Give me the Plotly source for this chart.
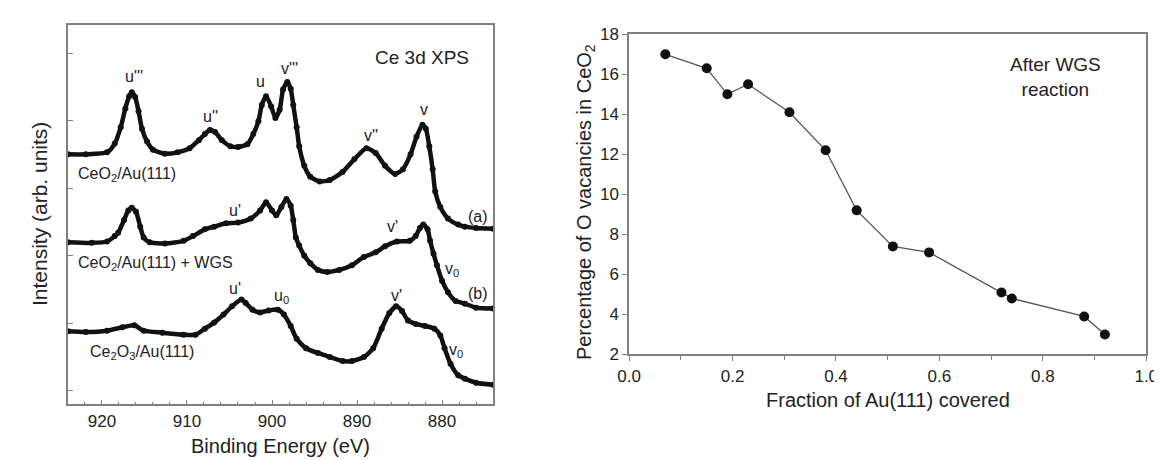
import plotly.graph_objects as go

# ---------------- data: Ce 3d XPS spectra (left panel) ----------------
energy_a = [924.0, 921.9, 919.4, 918.5, 917.8, 917.25, 916.8, 916.5, 916.1, 915.7, 915.3, 914.7,
            914.0, 912.6, 911.1, 909.7, 908.6, 907.9, 907.3, 906.7, 905.9, 904.9, 904.0, 902.9,
            902.2, 901.6, 901.2, 900.7, 900.1, 899.6, 899.1, 898.7, 898.2, 897.8, 897.5, 897.1,
            896.8, 896.2, 895.5, 894.4, 893.2, 891.7, 890.3, 888.9, 887.8, 886.7, 885.5, 884.6,
            883.7, 883.0, 882.3, 881.9, 881.5, 881.1, 880.8, 880.2, 879.3, 878.1, 877.3, 876.0, 874.0]
intens_a = [4.50, 4.50, 4.53, 4.66, 4.90, 5.18, 5.36, 5.42, 5.35, 5.14, 4.88, 4.69,
            4.57, 4.51, 4.53, 4.59, 4.71, 4.80, 4.86, 4.83, 4.71, 4.62, 4.61, 4.65,
            4.80, 4.99, 5.23, 5.36, 5.21, 5.04, 5.16, 5.46, 5.57, 5.47, 5.23, 4.90,
            4.62, 4.33, 4.17, 4.10, 4.12, 4.24, 4.43, 4.59, 4.52, 4.33, 4.21, 4.28,
            4.50, 4.76, 4.94, 4.88, 4.62, 4.28, 3.95, 3.72, 3.55, 3.46, 3.43, 3.41, 3.40]

energy_b = [924.0, 921.2, 919.4, 918.5, 918.1, 917.4, 916.9, 916.5, 916.0, 915.5, 915.1, 914.4,
            912.6, 910.4, 909.3, 907.9, 906.8, 905.4, 904.0, 902.5, 901.4, 900.7, 900.0, 899.5,
            898.9, 898.3, 897.8, 897.5, 897.2, 896.8, 896.2, 895.5, 894.6, 893.5, 892.1, 890.6,
            889.2, 887.8, 886.7, 885.3, 883.8, 883.1, 882.6, 882.2, 881.7, 881.4, 881.0, 880.6,
            880.0, 879.3, 878.4, 877.3, 876.0, 874.0]
intens_b = [3.20, 3.19, 3.21, 3.29, 3.34, 3.53, 3.67, 3.71, 3.65, 3.43, 3.27, 3.20,
            3.18, 3.22, 3.29, 3.39, 3.43, 3.48, 3.49, 3.55, 3.67, 3.79, 3.67, 3.60,
            3.72, 3.84, 3.74, 3.53, 3.27, 3.15, 3.00, 2.89, 2.79, 2.76, 2.79, 2.86,
            2.98, 3.05, 3.14, 3.21, 3.22, 3.29, 3.41, 3.46, 3.39, 3.22, 3.03, 2.86,
            2.63, 2.46, 2.33, 2.29, 2.23, 2.22]

energy_c = [924.0, 921.9, 919.4, 917.6, 916.2, 915.1, 912.9, 910.4, 909.0, 907.9, 906.8, 905.7,
            904.7, 903.6, 903.1, 902.3, 901.4, 900.4, 899.3, 898.6, 897.8, 897.1, 896.0, 894.6,
            893.2, 891.7, 890.6, 889.2, 888.1, 887.1, 886.2, 885.4, 884.7, 884.0, 883.1, 882.0,
            880.9, 880.2, 879.7, 879.0, 878.1, 877.3, 876.0, 874.0]
intens_c = [1.88, 1.87, 1.89, 1.94, 1.97, 1.89, 1.86, 1.83, 1.83, 1.92, 2.01, 2.13,
            2.25, 2.35, 2.30, 2.20, 2.16, 2.19, 2.20, 2.13, 1.96, 1.77, 1.63, 1.56,
            1.50, 1.44, 1.44, 1.50, 1.63, 1.92, 2.15, 2.25, 2.18, 2.04, 1.99, 1.96,
            1.92, 1.82, 1.63, 1.40, 1.23, 1.18, 1.12, 1.09]

# ---------------- data: O vacancies vs Au coverage (right panel) ----------------
coverage = [0.07, 0.15, 0.19, 0.23, 0.31, 0.38, 0.44, 0.51, 0.58, 0.72, 0.74, 0.88, 0.92]
vacancies = [17.0, 16.3, 15.0, 15.5, 14.1, 12.2, 9.2, 7.4, 7.1, 5.1, 4.8, 3.9, 3.0]

x_ticks_left = [920, 910, 900, 890, 880]
x_ticks_right = [0.0, 0.2, 0.4, 0.6, 0.8, 1.0]
x_ticklabels_right = ["0.0", "0.2", "0.4", "0.6", "0.8", "1.0"]
y_ticks_right = [2, 4, 6, 8, 10, 12, 14, 16, 18]

FONT = "Liberation Sans, Arial, sans-serif"
W, H = 1162, 460

def px_x(p):
    return p / W

def px_y(p):
    return 1 - p / H

fig = go.Figure()

for e, i in [(energy_a, intens_a), (energy_b, intens_b), (energy_c, intens_c)]:
    fig.add_trace(go.Scatter(
        x=e, y=i, mode="lines+markers",
        line=dict(color="#111111", width=4.5, shape="spline", smoothing=0.6),
        marker=dict(color="#111111", size=6),
        xaxis="x", yaxis="y", showlegend=False, hoverinfo="skip"))

fig.add_trace(go.Scatter(
    x=coverage, y=vacancies, mode="lines+markers",
    line=dict(color="#555555", width=1.3),
    marker=dict(color="#111111", size=10),
    xaxis="x2", yaxis="y2", showlegend=False))

axis_line = dict(showline=True, linecolor="#808080", linewidth=1.6, mirror=True,
                 showgrid=False, zeroline=False)

fig.update_layout(
    width=W, height=H,
    margin=dict(l=0, r=0, t=0, b=0),
    paper_bgcolor="white", plot_bgcolor="white",
    font=dict(family=FONT, size=16, color="#222222"),
    xaxis=dict(domain=[px_x(49), px_x(483)], range=[924, 874], tickvals=x_ticks_left,
               ticks="inside", ticklen=5, tickcolor="#808080",
               minor=dict(dtick=2, ticks="inside", ticklen=3, tickcolor="#808080"),
               tickfont=dict(size=17), anchor="y", **axis_line),
    yaxis=dict(domain=[px_y(404), px_y(8)], range=[0.8, 6.42], tickvals=[1, 2, 3, 4, 5, 6],
               showticklabels=False, ticks="inside", ticklen=5, tickcolor="#808080",
               anchor="x", **axis_line),
    xaxis2=dict(domain=[px_x(622), px_x(1150)], range=[0, 1], tickvals=x_ticks_right,
                ticktext=x_ticklabels_right,
                ticks="outside", ticklen=5, tickcolor="#808080",
                minor=dict(dtick=0.1, ticks="outside", ticklen=4, tickcolor="#808080"),
                tickfont=dict(size=17), anchor="y2", **axis_line),
    yaxis2=dict(domain=[px_y(352), px_y(18)], range=[2, 18], tickvals=y_ticks_right,
                ticks="outside", ticklen=5, tickcolor="#808080",
                tickfont=dict(size=17), anchor="x2", **axis_line),
)

ann = []
def lab(x, y, text, size=16, xanchor="center", yanchor="middle", ref=("x", "y"), angle=0):
    ann.append(dict(x=x, y=y, xref=ref[0], yref=ref[1], text=text, showarrow=False,
                    xanchor=xanchor, yanchor=yanchor, textangle=angle,
                    font=dict(family=FONT, size=size, color="#222222")))

# peak labels (left panel)
lab(916.2, 5.65, "u'''")
lab(907.2, 5.06, "u''")
lab(901.3, 5.58, "u")
lab(898.0, 5.77, "v'''")
lab(888.4, 4.78, "v''")
lab(882.1, 5.16, "v")
lab(904.3, 3.67, "u'")
lab(885.8, 3.43, "v'")
lab(878.8, 2.79, "v<sub>0</sub>")
lab(904.3, 2.51, "u'")
lab(898.9, 2.39, "u<sub>0</sub>")
lab(885.4, 2.41, "v'")
lab(878.4, 1.59, "v<sub>0</sub>")
lab(875.8, 3.58, "(a)")
lab(875.8, 2.44, "(b)")
lab(923.0, 4.20, "CeO<sub>2</sub>/Au(111)", xanchor="left")
lab(923.0, 2.89, "CeO<sub>2</sub>/Au(111) + WGS", xanchor="left")
lab(921.7, 1.56, "Ce<sub>2</sub>O<sub>3</sub>/Au(111)", xanchor="left")
lab(882.4, 5.94, "Ce 3d XPS", size=19)

# right panel label
lab(0.825, 15.85, "After WGS<br>reaction", size=19, ref=("x2", "y2"))

# axis titles
lab(px_x(20), px_y(206), "Intensity (arb. units)", size=21, ref=("paper", "paper"), angle=-90)
lab(px_x(266), px_y(447), "Binding Energy (eV)", size=20, ref=("paper", "paper"))
lab(px_x(886), px_y(399), "Fraction of Au(111) covered", size=20, ref=("paper", "paper"))
lab(px_x(577), px_y(193), "Percentage of O vacancies in CeO<sub>2</sub>", size=20,
    ref=("paper", "paper"), angle=-90)

fig.update_layout(annotations=ann)
fig.write_html("out.html")
